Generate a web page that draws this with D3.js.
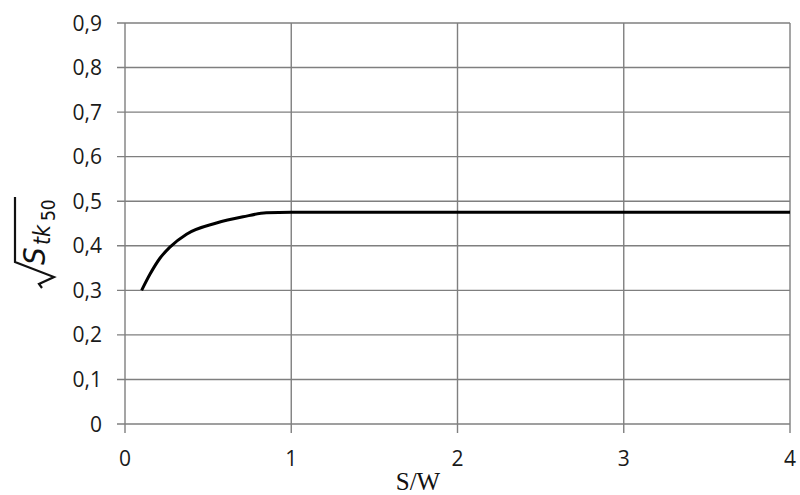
<!DOCTYPE html>
<html>
<head>
<meta charset="utf-8">
<script src="https://cdn.jsdelivr.net/npm/d3@7"></script>
<style>
  body { margin: 0; background: #fff; }
  .tick-label { font-family: "Open Sans", "Liberation Sans", sans-serif; font-size: 21px; fill: #1a1a1a; }
</style>
</head>
<body>
<svg width="800" height="495"></svg>
<script>
const width = 800;
const height = 495;
const margin = { top: 23, right: 10, bottom: 71, left: 125 };

// datos
const sw = [0.1, 0.15, 0.21, 0.27, 0.37, 0.55, 0.71, 0.85, 1.0, 2.0, 3.0, 4.0];
const stk = [0.300, 0.336, 0.372, 0.397, 0.426, 0.451, 0.465, 0.474, 0.475, 0.475, 0.475, 0.475];
const xTicks = [0, 1, 2, 3, 4];
const yTicks = [0, 0.1, 0.2, 0.3, 0.4, 0.5, 0.6, 0.7, 0.8, 0.9];
const yTickLabels = ["0", "0,1", "0,2", "0,3", "0,4", "0,5", "0,6", "0,7", "0,8", "0,9"];

const svg = d3.select("svg").attr("width", width).attr("height", height);

const x = d3.scaleLinear().domain([0, 4]).range([margin.left, width - margin.right]);
const y = d3.scaleLinear().domain([0, 0.9]).range([height - margin.bottom, margin.top]);

const gridColor = "#7f7f7f";

// Rejilla horizontal
svg.append("g")
  .selectAll("line")
  .data(yTicks)
  .join("line")
  .attr("x1", margin.left - 8)
  .attr("x2", x(4))
  .attr("y1", d => y(d))
  .attr("y2", d => y(d))
  .attr("stroke", gridColor)
  .attr("stroke-width", 1.4);

// Rejilla vertical
svg.append("g")
  .selectAll("line")
  .data(xTicks)
  .join("line")
  .attr("x1", d => x(d))
  .attr("x2", d => x(d))
  .attr("y1", y(0.9))
  .attr("y2", y(0) + 9)
  .attr("stroke", gridColor)
  .attr("stroke-width", 1.4);

// Etiquetas eje Y
svg.append("g")
  .selectAll("text")
  .data(yTicks)
  .join("text")
  .attr("class", "tick-label")
  .attr("x", 102)
  .attr("y", d => y(d))
  .attr("dy", "0.36em")
  .attr("text-anchor", "end")
  .text((d, i) => yTickLabels[i]);

// Etiquetas eje X
svg.append("g")
  .selectAll("text")
  .data(xTicks)
  .join("text")
  .attr("class", "tick-label")
  .attr("x", d => x(d))
  .attr("y", 466)
  .attr("text-anchor", "middle")
  .text(d => d);

// Curva
const line = d3.line()
  .x((d, i) => x(sw[i]))
  .y(d => y(d))
  .curve(d3.curveMonotoneX);

svg.append("path")
  .datum(stk)
  .attr("d", line)
  .attr("fill", "none")
  .attr("stroke", "#000")
  .attr("stroke-width", 3);

// Etiqueta eje X
svg.append("text")
  .attr("x", 418)
  .attr("y", 490)
  .attr("text-anchor", "middle")
  .attr("font-family", "Liberation Serif, serif")
  .attr("font-size", 25)
  .attr("fill", "#111")
  .text("S/W");

// Etiqueta eje Y: raíz de S_tk50
const ylab = svg.append("g").attr("transform", "translate(47, 289) rotate(-90)");

ylab.append("path")
  .attr("d", "M1,-5 L5,-8 L12,7 L27,-32 L92,-32")
  .attr("fill", "none")
  .attr("stroke", "#111")
  .attr("stroke-width", 2.2)
  .attr("stroke-linejoin", "miter");

const t = ylab.append("text")
  .attr("y", -2)
  .attr("font-family", "DejaVu Sans, sans-serif")
  .attr("font-stretch", "condensed")
  .attr("font-style", "italic")
  .attr("fill", "#111");
t.append("tspan").attr("x", 24).attr("font-size", 31).text("S");
t.append("tspan").attr("x", 44).attr("font-size", 23).attr("dy", 5).text("tk");
t.append("tspan").attr("x", 68).attr("font-size", 19).attr("font-style", "normal").attr("dy", 5).text("50");
</script>
</body>
</html>
